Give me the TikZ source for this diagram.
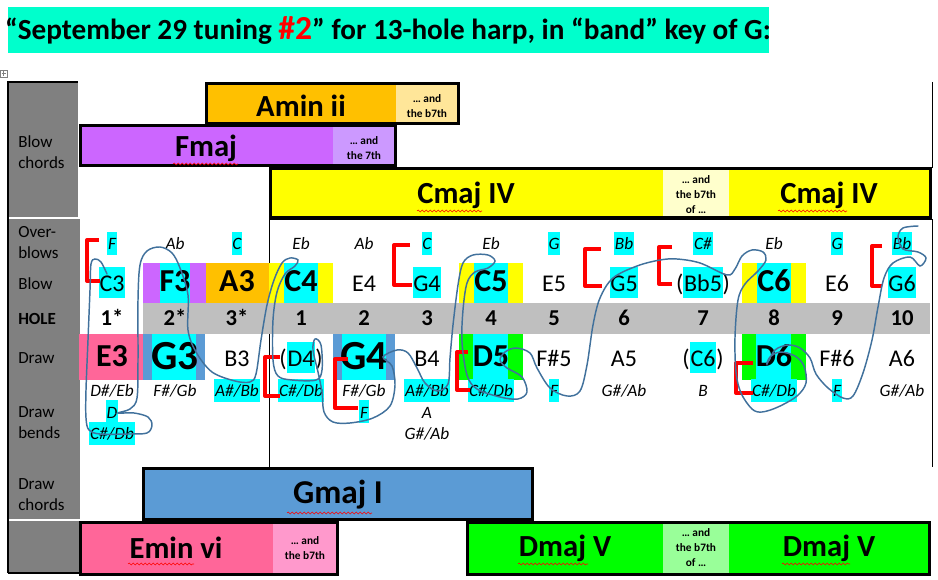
\documentclass[tikz,border=0pt]{standalone}
\usepackage{fontspec}
\setmainfont{Carlito}
\usepackage{xcolor}
\usepackage{tikz}
\usetikzlibrary{positioning,decorations.pathmorphing}
\definecolor{titlebg}{HTML}{00FFCC}
\definecolor{hlcyan}{HTML}{00FFFF}
\definecolor{labgray}{HTML}{808080}
\definecolor{holegray}{HTML}{BFBFBF}
\definecolor{amin}{HTML}{FFC000}
\definecolor{aminlt}{HTML}{FFE699}
\definecolor{fmaj}{HTML}{CC66FF}
\definecolor{fmajlt}{HTML}{CC99FF}
\definecolor{cmaj}{HTML}{FFFF00}
\definecolor{cmajlt}{HTML}{FFFFCC}
\definecolor{gmaj}{HTML}{5B9BD5}
\definecolor{emin}{HTML}{FF6699}
\definecolor{eminlt}{HTML}{FF99CC}
\definecolor{dmaj}{HTML}{00FF00}
\definecolor{dmajlt}{HTML}{99FF99}
\definecolor{scrib}{HTML}{41719C}
\definecolor{brk}{HTML}{FF0000}
\newcommand\cyanmark[1]{{\setlength{\fboxsep}{0.6pt}\colorbox{hlcyan}{\rule[-0.22em]{0pt}{1.22em}#1}}}

\begin{document}
\begin{tikzpicture}[x=0.75pt,y=-0.75pt,inner sep=0pt,
  rowlab/.style={anchor=west,align=left,font=\fontsize{12.75}{15.75}\selectfont},
  obnote/.style={anchor=base,font=\fontsize{13}{16}\selectfont\itshape},
  plainnote/.style={anchor=base,font=\fontsize{18}{22}\selectfont},
  boldnote/.style={anchor=base,font=\fontsize{24}{28}\selectfont\bfseries},
  bignote/.style={anchor=base,yshift=-2pt,font=\fontsize{31}{36}\selectfont\bfseries},
  holenum/.style={anchor=base,font=\fontsize{17}{20}\selectfont\bfseries},
  chordname/.style={font=\fontsize{23}{28}\selectfont\bfseries},
  andnote/.style={align=center,font=\fontsize{8.5}{11.25}\selectfont\bfseries},
  chordbox/.style={draw=black,line width=2.25pt},
  redbracket/.style={draw=brk,line width=3pt,line join=round},
  scribble/.style={draw=scrib,line width=1.1pt,line cap=round},
  squiggle/.style={draw=red,line width=0.4pt,decorate,decoration={snake,amplitude=0.7pt,segment length=3pt}}]
\useasboundingbox (0,0) rectangle (938,580);
% title
\fill[titlebg] (8,7) rectangle (769,53);
\node[font=\fontsize{21.9}{26}\selectfont\bfseries] (title) at (388,31)
  {“September 29 tuning \textcolor{red}{\fontsize{25.2}{26}\selectfont\#2}” for 13-hole harp, in “band” key of G:};
\draw[gray,line width=0.4pt] (0.5,70.5) rectangle (7,77);
\draw[gray,line width=0.4pt] (3.75,71.5) -- (3.75,76) (1.5,73.75) -- (6,73.75);
% label column
\fill[labgray] (9,83) rectangle (78,217);
\fill[labgray] (9,219) rectangle (80,519);
\fill[labgray] (9,521) rectangle (80,572);
\draw[line width=1.5pt] (8,573) -- (8,82) -- (78,82);
\draw[line width=1.5pt] (8,573) -- (80,573);
\node[rowlab] (lblowch) at (18,152) {Blow\\chords};
\node[rowlab] (lover) at (18,243) {Over-\\blows};
\node[rowlab] (lblow) at (18,284) {Blow};
\node[rowlab,font=\fontsize{12.75}{15.75}\selectfont\bfseries] (lhole) at (18,319) {HOLE};
\node[rowlab] (ldraw) at (18,358) {Draw};
\node[rowlab] (lbend) at (18,423) {Draw\\bends};
\node[rowlab] (ldrawch) at (18,495) {Draw\\chords};
% table lines
\draw[line width=0.75pt] (269,467) -- (269,220) -- (932,220) -- (932,467);
\draw[line width=0.75pt] (932,82) -- (932,168);
% blow chords
\fill[amin] (206,84) rectangle (396,124); \fill[aminlt] (396,84) rectangle (458,124);
\draw[chordbox] (206,84) rectangle (458,124);
\node[chordname] (amin) at (301,106) {Amin ii};
\node[andnote] (amin7) at (427,106) {… and\\the b7th};
\fill[fmaj] (80,126) rectangle (333,166); \fill[fmajlt] (333,126) rectangle (395,166);
\draw[chordbox] (80,126) rectangle (395,166);
\node[chordname] (fmaj) at (206,148) {Fmaj};
\node[andnote] (fmaj7) at (364,148) {… and\\the 7th};
\fill[cmaj] (270,169) rectangle (930,218); \fill[cmajlt] (663,169) rectangle (729,218);
\draw[chordbox] (270,169) rectangle (930,218);
\node[chordname] (cmaja) at (466,195) {Cmaj IV};
\node[chordname] (cmajb) at (829,195) {Cmaj IV};
\node[andnote] (cmaj7) at (696,195) {… and\\the b7th\\of …};
% hole band and coloured cells
\fill[holegray] (143,303) rectangle (930,334);
\fill[fmaj] (143,263) rectangle (206,303); \fill[hlcyan] (160,263) rectangle (190,303);
\fill[amin] (206,263) rectangle (269,303);
\foreach \a/\b in {269/333,459/523,742/806} {\fill[cmaj] (\a,263) rectangle (\b,303); \fill[hlcyan] (\a+15,263) rectangle (\b-15,303);}
\fill[emin] (79,334) rectangle (143,380);
\foreach \a/\b in {143/205,333/395} {\fill[gmaj] (\a,334) rectangle (\b,380); \fill[hlcyan] (\a+9,334) rectangle (\b-9,380);}
\foreach \a/\b in {459/523,742/806} {\fill[dmaj] (\a,334) rectangle (\b,380); \fill[hlcyan] (\a+14,334) rectangle (\b-15,380);}
% overblows
\foreach \c/\t [count=\i] in {112/\cyanmark{F},175/Ab,237/\cyanmark{C},301/Eb,364/Ab,427/\cyanmark{C},491/Eb,554/\cyanmark{G},624/\cyanmark{Bb},703/\cyanmark{C\#},774/Eb,837/\cyanmark{G},902/\cyanmark{Bb}}
  \node[obnote] (ob\i) at (\c,250) {\t};
% blow notes
\foreach \c/\t/\s [count=\i] in {112/\cyanmark{C3}/plainnote,175/F3/boldnote,237/A3/boldnote,301/C4/boldnote,364/E4/plainnote,427/\cyanmark{G4}/plainnote,491/C5/boldnote,554/E5/plainnote,624/\cyanmark{G5}/plainnote,703/(\cyanmark{Bb5})/plainnote,774/C6/boldnote,837/E6/plainnote,902/\cyanmark{G6}/plainnote}
  \node[\s] (bl\i) at (\c,292) {\t};
% holes
\foreach \c/\t [count=\i] in {112/1*,175/2*,237/3*,301/1,364/2,427/3,491/4,554/5,624/6,703/7,774/8,837/9,902/10}
  \node[holenum] (hole\i) at (\c,326) {\t};
% draw notes
\foreach \c/\t/\s [count=\i] in {112/E3/boldnote,175/G3/bignote,237/B3/plainnote,301/(\cyanmark{D4})/plainnote,364/G4/bignote,427/B4/plainnote,491/D5/boldnote,554/F\#5/plainnote,624/A5/plainnote,703/(\cyanmark{C6})/plainnote,774/D6/boldnote,837/F\#6/plainnote,902/A6/plainnote}
  \node[\s] (dr\i) at (\c,367) {\t};
% draw bends
\foreach \c/\t [count=\i] in {112/{D\#/Eb},175/{F\#/Gb},237/{\cyanmark{A\#/Bb}},301/{\cyanmark{C\#/Db}},364/{F\#/Gb},427/{\cyanmark{A\#/Bb}},491/{\cyanmark{C\#/Db}},554/\cyanmark{F},624/{G\#/Ab},703/B,774/{\cyanmark{C\#/Db}},837/\cyanmark{F},902/{G\#/Ab}}
  \node[obnote] (bdA\i) at (\c,397) {\t};
\node[obnote] (bdB1) at (112,418) {\cyanmark{D}};
\node[obnote] (bdC1) at (112,440) {\cyanmark{C\#/Db}};
\node[obnote] (bdB5) at (364,418) {\cyanmark{F}};
\node[obnote] (bdB6) at (427,418) {A};
\node[obnote] (bdC6) at (427,440) {G\#/Ab};
% red brackets
\draw[redbracket] (99,240) -- (87,240) -- (87,281) -- (100,281);
\draw[redbracket] (410,245) -- (394,245) -- (394,285) -- (412,285);
\draw[redbracket] (280,357) -- (265,357) -- (265,396) -- (280,396);
\draw[redbracket] (348,359) -- (335,359) -- (335,408) -- (358,408);
\draw[redbracket] (468,352) -- (457,352) -- (457,390) -- (470,390);
\draw[redbracket] (601,249) -- (585,249) -- (585,286) -- (602,286);
\draw[redbracket] (672,247) -- (659,247) -- (659,284) -- (672,284);
\draw[redbracket] (753,363) -- (736,363) -- (736,393) -- (753,393);
\draw[redbracket] (882,246) -- (872,246) -- (872,286) -- (882,286);
% the scribble
\draw[scribble] plot[smooth,tension=0.55] coordinates {(107,274) (101,262) (95,259) (91,264) (90,290) (88,340) (86,390) (86,418) (89,430) (100,434) (128,434) (147,433) (152,425) (148,417) (134,413) (118,413) (130,409) (137,398) (138,360) (138,300) (140,265) (147,251) (160,247) (172,253) (180,268) (188,295) (188,330) (196,352) (212,372) (235,381) (250,382) (256,374) (261,340) (267,305) (274,280) (282,263) (290,258) (298,260) (295,266) (285,274) (277,292) (273,320) (273,360) (278,376) (292,380) (316,380) (322,370) (321,345) (315,339) (313,350) (318,372) (322,392) (324,412) (333,422) (350,423) (373,418) (390,406) (395,385) (392,366) (383,357) (397,350) (408,353) (417,368) (425,383) (437,391) (448,384) (450,358) (453,325) (458,285) (463,263) (473,255) (488,255) (495,261) (488,268) (475,272) (467,283) (463,310) (462,342) (467,375) (477,389) (500,397) (518,399) (527,392) (522,377) (507,368) (500,360) (505,352) (516,348) (530,353) (537,368) (550,388) (567,396) (580,391) (587,365) (593,325) (600,298) (613,278) (637,266) (660,260) (677,259) (700,263) (727,275) (735,269) (742,256) (752,250) (763,252) (766,260) (758,271) (745,284) (738,300) (735,337) (736,372) (741,393) (752,409) (762,412) (778,407) (797,396) (806,383) (804,366) (795,356) (780,352) (770,357) (767,364) (775,350) (788,345) (800,348) (810,358) (816,374) (828,388) (843,398) (853,396) (863,373) (872,340) (878,307) (884,278) (893,263) (910,257) (920,266) (926,258) (918,252) (903,249) (898,237) (903,228) (918,226)};
% draw chords
\fill[gmaj] (143,468) rectangle (532,519);
\draw[chordbox] (143,468) rectangle (532,519);
\node[chordname,font=\fontsize{25}{30}\selectfont\bfseries] (gmaj) at (338,495) {Gmaj I};
\fill[emin] (80,522) rectangle (273,574); \fill[eminlt] (273,522) rectangle (337,574);
\draw[chordbox] (80,522) rectangle (337,574);
\node[chordname] (emin) at (176,548) {Emin vi};
\node[andnote] (emin7) at (305,548) {… and\\the b7th};
\fill[dmaj] (467,522) rectangle (929,574); \fill[dmajlt] (663,522) rectangle (729,574);
\draw[chordbox] (467,522) rectangle (929,574);
\node[chordname] (dmaja) at (565,548) {Dmaj V};
\node[chordname] (dmajb) at (829,548) {Dmaj V};
\node[andnote] (dmaj7) at (696,548) {… and\\the b7th\\of …};
% spelling marks
\draw[squiggle] (173,164) -- (238,164);
\draw[squiggle] (417,211) -- (482,211);
\draw[squiggle] (778,211) -- (847,211);
\draw[squiggle] (287,513) -- (372,513);
\draw[squiggle] (128,564) -- (194,564);
\draw[squiggle] (518,564) -- (588,564);
\draw[squiggle] (782,564) -- (850,564);
\end{tikzpicture}
\end{document}
